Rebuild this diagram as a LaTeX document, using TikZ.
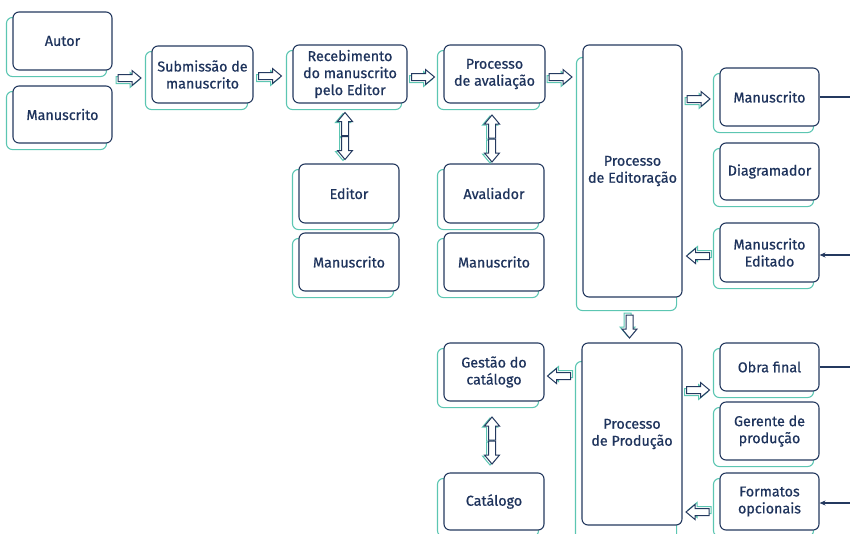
\documentclass[tikz,border=0pt]{standalone}
\usepackage{fontspec}
\setmainfont{Fira Sans}[FakeBold=0.7]
\usetikzlibrary{arrows.meta,backgrounds}
\definecolor{navy}{HTML}{24395F}
\definecolor{ink}{HTML}{1E335C}
\definecolor{tealc}{HTML}{5CC6B2}
\tikzset{
  box/.style={draw=navy, line width=1.1pt, fill=white, rounded corners=6pt,
    align=center, text=ink, inner sep=0pt,
    font=\fontsize{14.3}{17}\selectfont},
  sm/.style={box, minimum width=99pt, minimum height=58pt},
  shadowbox/.style={draw=tealc, line width=1.1pt, rounded corners=6pt},
  link/.style={draw=navy, line width=1.1pt},
}
% outline of a block arrow pointing right, centred on the origin
\def\arrowshape{(-11.5,-3.5) -- (2.5,-3.5) -- (2.5,-7.5) -- (11.5,0) -- (2.5,7.5) -- (2.5,3.5) -- (-11.5,3.5) -- cycle}
% #1,#2 centre, #3 angle, #4,#5 offset of the teal copy
\newcommand\blockarrow[5]{%
  \draw[tealc, line width=1pt, fill=white, shift={(#1+#4,#2+#5)}, rotate=#3] \arrowshape;
  \draw[navy, line width=1pt, fill=white, shift={(#1,#2)}, rotate=#3] \arrowshape;}
\begin{document}
\begin{tikzpicture}[x=1pt,y=-1pt]
\useasboundingbox (0,0) rectangle (850,533);

% column 1
\node[sm] (autor) at (62.5,41) {Autor};
\node[sm, minimum height=57pt] (man1) at (62.5,114.5) {Manuscrito};
% submission
\node[sm, minimum width=101pt, minimum height=57pt] (subm) at (202.5,74.5) {Submissão de\\manuscrito};
% reception
\node[sm, minimum width=114pt] (receb) at (350,74) {Recebimento\\do manuscrito\\pelo Editor};
\node[sm, minimum width=100pt, minimum height=59pt] (editor) at (349,193.5) {Editor};
\node[sm, minimum width=100pt] (man2) at (349,262) {Manuscrito};
% review
\node[sm, minimum width=101pt] (aval) at (494.5,74) {Processo\\de avaliação};
\node[sm, minimum width=100pt, minimum height=59pt] (avaliador) at (494,193.5) {Avaliador};
\node[sm, minimum width=100pt] (man3) at (494,262) {Manuscrito};
% editing
\node[box, minimum width=99pt, minimum height=252pt] (edit) at (632.5,171) {Processo\\de Editoração};
\node[sm] (manR) at (769.5,97) {Manuscrito};
\node[sm, minimum height=57pt] (diag) at (769.5,171.5) {Diagramador};
\node[sm, minimum height=59pt] (manEd) at (769.5,252.5) {Manuscrito\\Editado};
% production
\node[box, minimum width=100pt, minimum height=182pt] (prod) at (632,434) {Processo\\de Produção};
\node[sm, minimum width=100pt] (gestao) at (494,372) {Gestão do\\catálogo};
\node[sm, minimum width=100pt, minimum height=57pt] (catalogo) at (494,501.5) {Catálogo};
\node[sm, minimum height=48pt] (obra) at (769.5,367) {Obra final};
\node[sm] (gerente) at (769.5,431) {Gerente de\\produção};
\node[sm, minimum height=57pt] (formatos) at (769.5,501.5) {Formatos\\opcionais};

% teal copies behind the boxes
\begin{scope}[on background layer]
  \foreach \n in {autor,man1,subm,receb,editor,man2,aval,avaliador,man3,
                  manR,diag,manEd,gestao,catalogo,obra,gerente,formatos}
    \draw[shadowbox] ([shift={(-6,6)}]\n.north west) rectangle ([shift={(-6,6)}]\n.south east);
  \draw[shadowbox] ([shift={(-6,13)}]edit.north west) rectangle ([shift={(-6,13)}]edit.south east);
  \draw[shadowbox] ([shift={(-6,19)}]prod.north west) rectangle ([shift={(-6,19)}]prod.south east);
\end{scope}

% flow arrows
\blockarrow{129.5}{78}{0}{-2}{2}
\blockarrow{270}{76}{0}{-2}{2}
\blockarrow{423}{77}{0}{-2}{2}
\blockarrow{560.5}{77}{0}{-2}{2}
\blockarrow{698.5}{99}{0}{-2}{2}
\blockarrow{698}{256}{180}{2}{-2}
\blockarrow{629.5}{326.5}{-90}{-2}{-2}
\blockarrow{559}{376}{180}{2}{-2}
\blockarrow{698}{390}{0}{-2}{2}
\blockarrow{697.5}{512}{180}{2}{-2}
% two-way links
\blockarrow{345}{124}{90}{-2}{1}
\blockarrow{345}{148}{-90}{-2}{1}
\blockarrow{492}{126.5}{90}{-2}{1}
\blockarrow{492}{150.5}{-90}{-2}{1}
\blockarrow{492}{428.5}{90}{-2}{1}
\blockarrow{492}{452.5}{-90}{-2}{1}

% lines to and from the right edge
\coordinate (o1) at (850,97);
\coordinate (i1) at (850,255);
\coordinate (o2) at (850,367);
\coordinate (i2) at (850,503);
\draw[link] (manR.east) -- (o1);
\draw[link, -{Stealth[length=6pt,width=5pt]}] (i1) -- (i1 -| manEd.east);
\draw[link] (obra.east) -- (o2);
\draw[link, -{Stealth[length=6pt,width=5pt]}] (i2) -- (i2 -| formatos.east);
\end{tikzpicture}
\end{document}
